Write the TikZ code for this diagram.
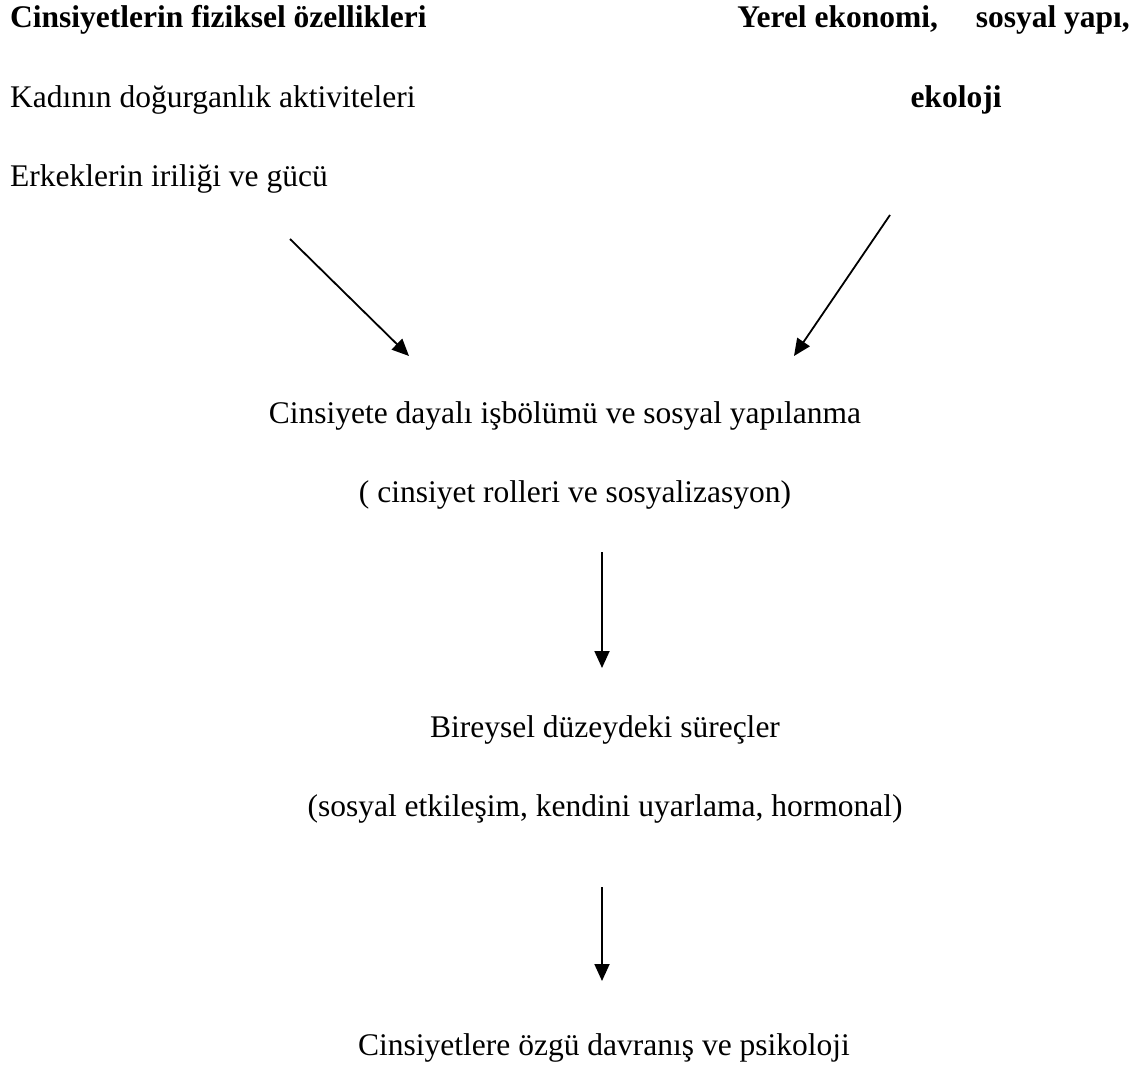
\documentclass[tikz,border=0pt]{standalone}
\usepackage{fontspec}
\setmainfont{Liberation Serif}
\usetikzlibrary{arrows.meta}
\begin{document}
\begin{tikzpicture}[x=1pt,y=-1pt,
  lbl/.style={inner sep=0pt,font=\fontsize{31.5}{36}\selectfont},
  blbl/.style={lbl,font=\fontsize{31.5}{36}\selectfont\bfseries},
  arr/.style={line width=1.8pt,-{Triangle[length=17pt,width=15pt]}}]
\useasboundingbox (0,0) rectangle (1141,1065);
\node[blbl,anchor=base west] (t1) at (10,28) {Cinsiyetlerin fiziksel özellikleri};
\node[lbl,anchor=base west] (t2) at (10,107) {Kadının doğurganlık aktiviteleri};
\node[lbl,anchor=base west] (t3) at (10,186) {Erkeklerin iriliği ve gücü};
\node[blbl,anchor=base east] (r1) at (1130,28) {Yerel ekonomi,\hspace{1.2em}sosyal yapı,};
\node[blbl,anchor=base] (r2) at (956,107) {ekoloji};
\node[lbl,anchor=base] (m1) at (565,423) {Cinsiyete dayalı işbölümü ve sosyal yapılanma};
\node[lbl,anchor=base] (m2) at (575,502) {( cinsiyet rolleri ve sosyalizasyon)};
\node[lbl,anchor=base] (b1) at (605,737) {Bireysel düzeydeki süreçler};
\node[lbl,anchor=base] (b2) at (605,816) {(sosyal etkileşim, kendini uyarlama, hormonal)};
\node[lbl,anchor=base] (c1) at (604,1055) {Cinsiyetlere özgü davranış ve psikoloji};
\coordinate (a1s) at (290,239);
\coordinate (a1e) at (409,356);
\coordinate (a2s) at (890,215);
\coordinate (a2e) at (794,356);
\coordinate (a3s) at (602,552);
\coordinate (a3e) at (602,668);
\coordinate (a4s) at (602,887);
\coordinate (a4e) at (602,981);
\draw[arr] (a1s) -- (a1e);
\draw[arr] (a2s) -- (a2e);
\draw[arr] (a3s) -- (a3e);
\draw[arr] (a4s) -- (a4e);
\end{tikzpicture}
\end{document}
